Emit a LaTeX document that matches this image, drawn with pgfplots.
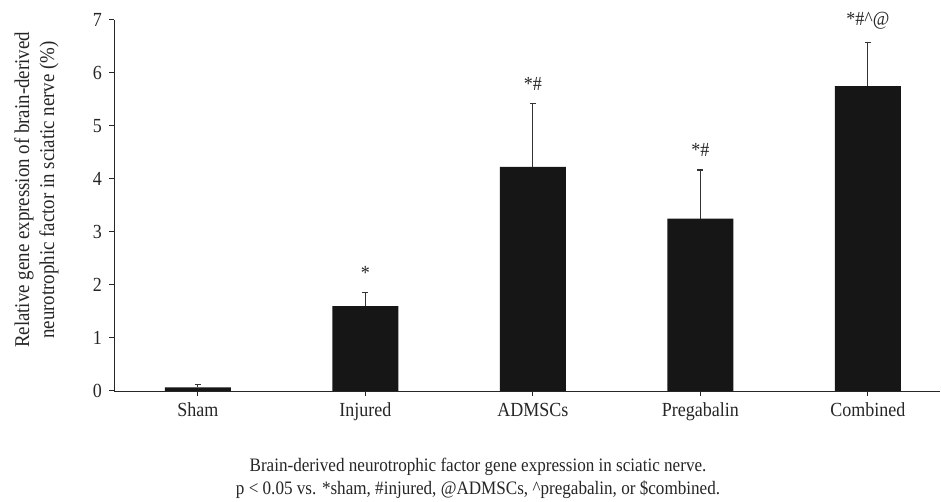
\documentclass[border=0pt]{standalone}
\usepackage{pgfplots}
\pgfplotsset{compat=1.18}
\usepackage{pgfplotstable}
\usepackage{fontspec}
\setmainfont{Liberation Serif}[FakeStretch=0.9]
\definecolor{barc}{HTML}{161616}
\definecolor{errc}{HTML}{333333}
\pgfplotstableread{
x y err
0 0.07 0.05
1 1.60 0.26
2 4.23 1.20
3 3.25 0.92
4 5.75 0.83
}\datatab
\begin{document}
\begin{tikzpicture}
\path[use as bounding box] (-57pt,-55.5pt) rectangle (413.5pt,195.5pt);
\begin{axis}[
  scale only axis,
  width=413pt, height=185.5pt,
  xmin=-0.5, xmax=4.43,
  ymin=0, ymax=7,
  clip=false,
  axis x line=bottom, axis y line=left,
  axis line style={-, black!85},
  xtick=data,
  xticklabels={Sham,Injured,ADMSCs,Pregabalin,Combined},
  ytick={0,1,...,7},
  yticklabels={0,1,2,3,4,5,6,7},
  tick align=outside,
  major tick length=2.5pt,
  tick style={black!85, line width=0.5pt},
  /pgf/number format/assume math mode=true,
  tick label style={font=\fontsize{10}{12}\selectfont, text=black!85},
  ybar, bar width=33pt,
]
\addplot[fill=barc, draw=none,
  error bars/.cd, y dir=plus, y explicit,
  error bar style={errc, line width=0.5pt},
  error mark options={rotate=90, errc, mark size=1.5pt, line width=0.6pt}]
  table[x=x, y=y, y error=err] {\datatab};
\node[anchor=south, font=\fontsize{10}{12}\selectfont, text=black!85] at (axis cs:1,1.86) [yshift=3pt] {*};
\node[anchor=south, font=\fontsize{10}{12}\selectfont, text=black!85] at (axis cs:2,5.43) [yshift=3pt] {*\#};
\node[anchor=south, font=\fontsize{10}{12}\selectfont, text=black!85] at (axis cs:3,4.17) [yshift=3pt] {*\#};
\node[anchor=south, font=\fontsize{10}{12}\selectfont, text=black!85] at (axis cs:4,6.58) [yshift=3pt] {*\#\textasciicircum@};
\end{axis}
\node[rotate=90, align=center, font=\fontsize{10.5}{12.5}\selectfont, text=black!85] at (-38.75pt,100.5pt)
  {Relative gene expression of brain-derived\\neurotrophic factor in sciatic nerve (\%)};
\node[align=center, font=\fontsize{9.5}{11.5}\selectfont, text=black!85] at (182pt,-43.75pt)
  {Brain-derived neurotrophic factor gene expression in sciatic nerve.\\p {\textless} 0.05 vs. *sham, \#injured, @ADMSCs, \textasciicircum pregabalin, or \$combined.};
\end{tikzpicture}
\end{document}
